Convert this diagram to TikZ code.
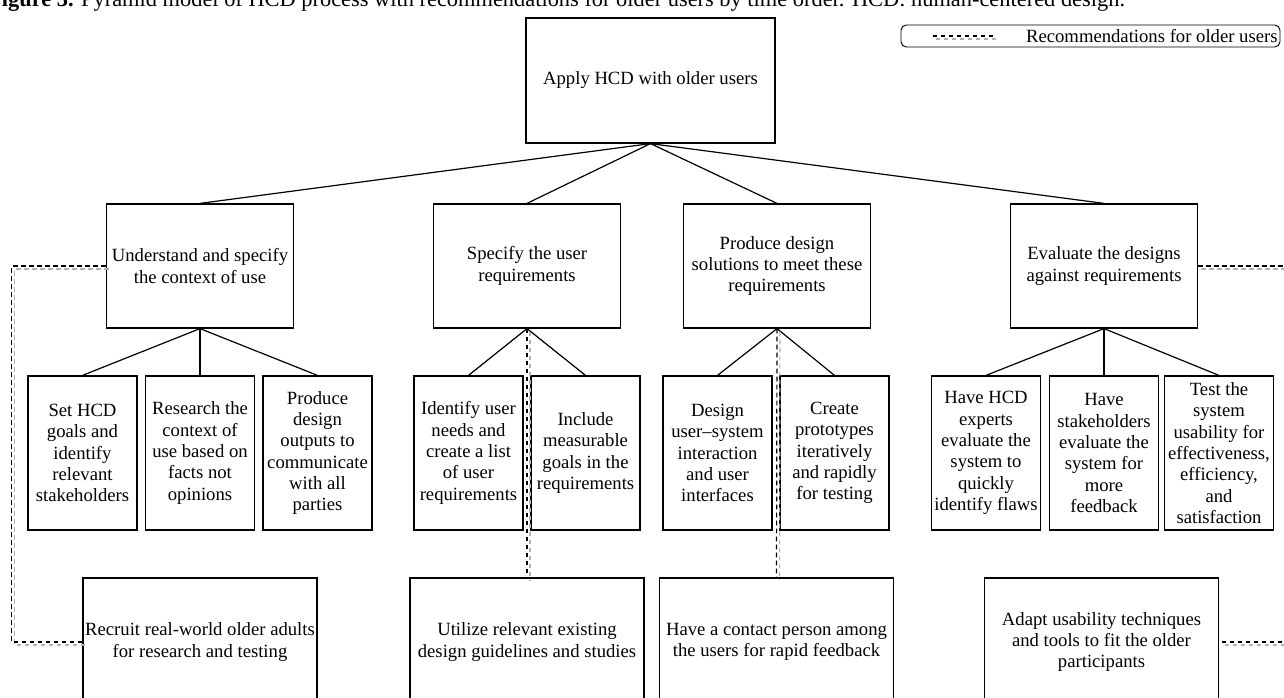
\documentclass[tikz,border=0pt]{standalone}
\usepackage{fontspec}
\setmainfont{Liberation Serif}

\tikzset{
	box/.style={draw, line width=0.9pt, align=center, inner sep=1pt, font=\fontsize{14}{16}\selectfont},
	topbox/.style={box, minimum width=186.75pt, minimum height=93.75pt},
	stepbox/.style={box, minimum width=140.5pt, minimum height=93pt},
	subbox/.style={box, minimum width=81.75pt, minimum height=115.5pt},
	recbox/.style={box, minimum width=175.5pt, minimum height=96pt},
	conn/.style={line width=0.9pt},
	recline/.style={line width=0.9pt, dash pattern=on 3.5pt off 2.5pt,
		preaction={draw, black!30, line width=0.8pt, dash pattern=on 3.5pt off 2.5pt, transform canvas={shift={(3,3)}}}},
}

\begin{document}
\begin{tikzpicture}[x=0.75pt, y=-0.75pt]
	\clip (0,0) rectangle (1284,698);
	\useasboundingbox (0,0) rectangle (1284,698);
	
	% caption, cut by the top edge
	\node[anchor=base west, inner sep=0pt, font=\fontsize{16.8}{20}\selectfont] (cap) at (-12,7) {\textbf{Figure 3.} Pyramid model of HCD process with recommendations for older users by time order. HCD: human-centered design.};
	
	% legend
	\node[draw, rounded corners=4pt, line width=0.7pt, minimum width=284.25pt, minimum height=16.5pt, inner sep=0pt] (leg) at (1090.5,36) {};
	\node[anchor=east, inner sep=0pt, font=\fontsize{14}{16}\selectfont] (legtxt) at ([xshift=-2pt]leg.east) {Recommendations for older users};
	\draw[recline] ([xshift=24pt]leg.west) -- ++(62,0);
	
	\node[topbox] (top) at (650.5,80.5) {Apply HCD with older users};
	
	\node[stepbox] (und) at (200,266) {Understand and specify\\the context of use};
	\node[stepbox] (spec) at (527,266) {Specify the user\\requirements};
	\node[stepbox] (prod) at (777,266) {Produce design\\solutions to meet these\\requirements};
	\node[stepbox] (eval) at (1104,266) {Evaluate the designs\\against requirements};
	
	\node[subbox] (set) at (82.5,453) {Set HCD\\goals and\\identify\\relevant\\stakeholders};
	\node[subbox] (res) at (200,453) {Research the\\context of\\use based on\\facts not\\opinions};
	\node[subbox] (out) at (317.5,453) {Produce\\design\\outputs to\\communicate\\with all\\parties};
	
	\node[subbox] (need) at (468.5,453) {Identify user\\needs and\\create a list\\of user\\requirements};
	\node[subbox] (goal) at (585.5,453) {Include\\measurable\\goals in the\\requirements};
	
	\node[subbox] (inter) at (717.5,453) {Design\\user--system\\interaction\\and user\\interfaces};
	\node[subbox] (proto) at (834.5,453) {Create\\prototypes\\iteratively\\and rapidly\\for testing};
	
	\node[subbox] (expert) at (986,453) {Have HCD\\experts\\evaluate the\\system to\\quickly\\identify flaws};
	\node[subbox] (stake) at (1104,453) {Have\\stakeholders\\evaluate the\\system for\\more\\feedback};
	\node[subbox] (test) at (1219,453) {Test the\\system\\usability for\\effectiveness,\\efficiency,\\and\\satisfaction};
	
	\node[recbox] (rec) at (200,642) {Recruit real-world older adults\\for research and testing};
	\node[recbox] (util) at (527,642) {Utilize relevant existing\\design guidelines and studies};
	\node[recbox] (cont) at (776.5,642) {Have a contact person among\\the users for rapid feedback};
	\node[recbox] (adapt) at (1101.5,642) {Adapt usability techniques\\and tools to fit the older\\participants};
	
	\foreach \n in {und,spec,prod,eval}
		\draw[conn] (top.south) -- (\n.north);
	\foreach \n in {set,res,out}
		\draw[conn] (und.south) -- (\n.north);
	\foreach \n in {need,goal}
		\draw[conn] (spec.south) -- (\n.north);
	\foreach \n in {inter,proto}
		\draw[conn] (prod.south) -- (\n.north);
	\foreach \n in {expert,stake,test}
		\draw[conn] (eval.south) -- (\n.north);
	
	% recommendations
	\draw[recline] (und.west) -- ++(-94,0) |- (rec.west);
	\draw[recline] (spec.south) -- (util.north);
	\draw[recline] (prod.south) -- (cont.north);
	\draw[recline] (eval.east) -- ++(110,0) |- (adapt.east);
\end{tikzpicture}
\end{document}
